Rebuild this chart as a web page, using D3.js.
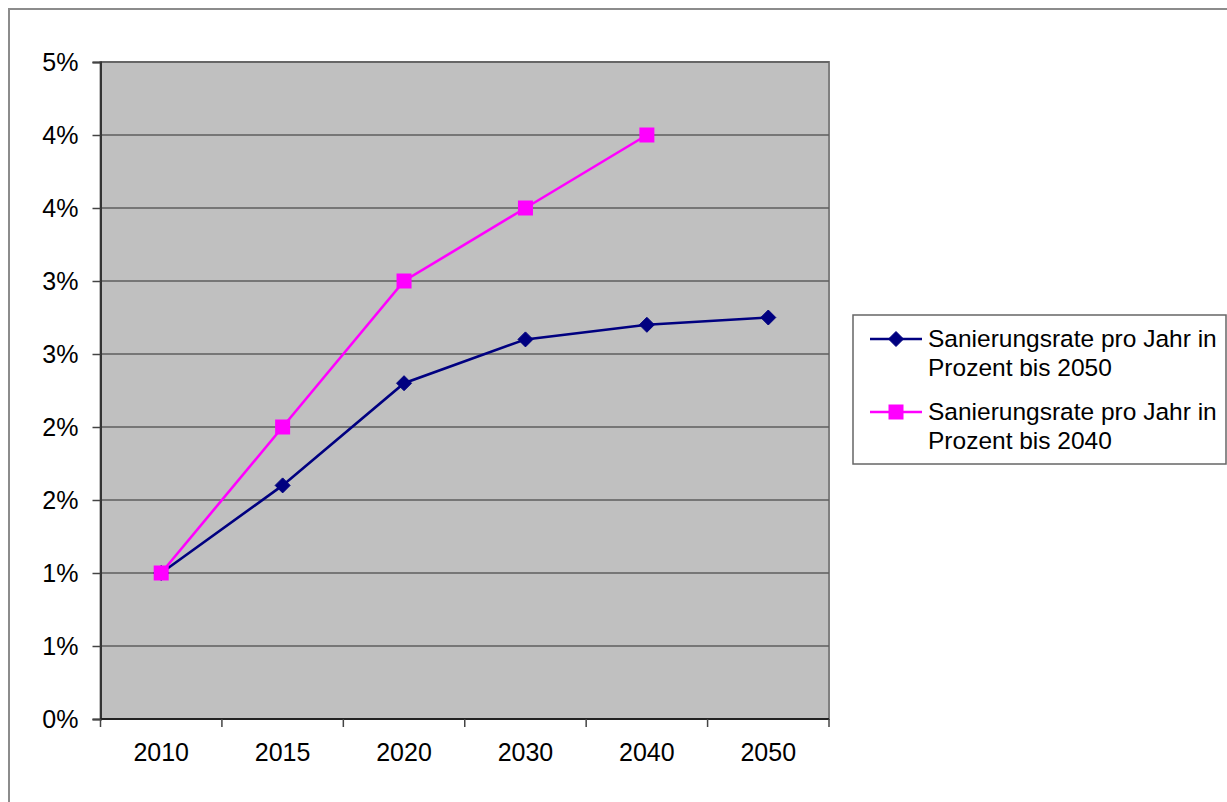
<!DOCTYPE html>
<html>
<head>
<meta charset="utf-8">
<script src="https://cdn.jsdelivr.net/npm/d3@7/dist/d3.min.js"></script>
<style>
  html, body { margin: 0; padding: 0; background: #fff; }
  svg { display: block; font-family: "Liberation Sans", Arial, sans-serif; }
</style>
</head>
<body>
<svg id="chart" width="1227" height="802"></svg>
<script>
// Renovation rate per year (%)
const years = ["2010", "2015", "2020", "2030", "2040", "2050"];
const rateTo2050 = [1.0, 1.6, 2.3, 2.6, 2.7, 2.75];
const rateTo2040 = [1.0, 2.0, 3.0, 3.5, 4.0];
const seriesNames = [
  ["Sanierungsrate pro Jahr in", "Prozent bis 2050"],
  ["Sanierungsrate pro Jahr in", "Prozent bis 2040"]
];
const yTicks = [0, 0.5, 1, 1.5, 2, 2.5, 3, 3.5, 4, 4.5];
const yTickLabels = ["0%", "1%", "1%", "2%", "2%", "3%", "3%", "4%", "4%", "5%"];

const svg = d3.select("#chart");
const plot = { left: 100.5, right: 829, top: 62, bottom: 719 };

// outer chart frame
svg.append("rect")
  .attr("x", 9).attr("y", 9).attr("width", 1240).attr("height", 820)
  .attr("fill", "#fff").attr("stroke", "#8c8c8c").attr("stroke-width", 2);

const x = d3.scaleBand().domain(years).range([plot.left, plot.right]).padding(0);
const y = d3.scaleLinear().domain([0, 4.5]).range([plot.bottom, plot.top]);
const cx = d => x(d) + x.bandwidth() / 2;

// plot area
svg.append("rect")
  .attr("x", plot.left).attr("y", plot.top)
  .attr("width", plot.right - plot.left).attr("height", plot.bottom - plot.top)
  .attr("fill", "#c0c0c0").attr("stroke", "#808080").attr("stroke-width", 2);

// horizontal gridlines
svg.append("g").selectAll("line")
  .data(yTicks.filter(t => t > 0))
  .join("line")
  .attr("x1", plot.left).attr("x2", plot.right)
  .attr("y1", d => y(d)).attr("y2", d => y(d))
  .attr("stroke", "#5e5e5e").attr("stroke-width", 1.6);

// y axis
const yAxis = d3.axisLeft(y)
  .tickValues(yTicks)
  .tickSize(8)
  .tickPadding(14)
  .tickFormat((d, i) => yTickLabels[i]);
const gy = svg.append("g").attr("transform", `translate(${plot.left},0)`).call(yAxis);
gy.select(".domain").attr("stroke", "#333").attr("stroke-width", 2);
gy.selectAll(".tick line").attr("stroke", "#444").attr("stroke-width", 1.5);
gy.selectAll(".tick text")
  .attr("font-size", 25).attr("fill", "#000")
  .attr("font-family", "Liberation Sans, Arial, sans-serif");

// x axis: ticks at category boundaries, labels at category centres
const gx = svg.append("g").attr("transform", `translate(0,${plot.bottom})`);
gx.append("line")
  .attr("x1", plot.left).attr("x2", plot.right)
  .attr("stroke", "#222").attr("stroke-width", 2);
const edges = years.map(d => x(d)).concat([x(years[years.length - 1]) + x.bandwidth()]);
gx.selectAll("line.tick")
  .data(edges)
  .join("line").attr("class", "tick")
  .attr("x1", d => d).attr("x2", d => d)
  .attr("y1", 0).attr("y2", 8)
  .attr("stroke", "#444").attr("stroke-width", 1.5);
gx.selectAll("text")
  .data(years)
  .join("text")
  .attr("x", d => cx(d)).attr("y", 42)
  .attr("text-anchor", "middle")
  .attr("font-size", 25).attr("fill", "#000")
  .text(d => d);

const line = d3.line().x((d, i) => cx(years[i])).y(d => y(d));

const navy = "#000080", magenta = "#ff00ff";

function diamond(g, px, py, r) {
  g.append("path")
    .attr("d", `M${px},${py - r}L${px + r},${py}L${px},${py + r}L${px - r},${py}Z`)
    .attr("fill", navy).attr("stroke", navy).attr("stroke-width", 1);
}
function square(g, px, py, s) {
  g.append("rect")
    .attr("x", px - s / 2).attr("y", py - s / 2).attr("width", s).attr("height", s)
    .attr("fill", magenta);
}

// series up to 2050
const g1 = svg.append("g");
g1.append("path").datum(rateTo2050).attr("d", line)
  .attr("fill", "none").attr("stroke", navy).attr("stroke-width", 2.6);
rateTo2050.forEach((v, i) => diamond(g1, cx(years[i]), y(v), 7.5));

// series up to 2040
const g2 = svg.append("g");
g2.append("path").datum(rateTo2040).attr("d", line)
  .attr("fill", "none").attr("stroke", magenta).attr("stroke-width", 2.6);
rateTo2040.forEach((v, i) => square(g2, cx(years[i]), y(v), 15));

// legend
const lg = svg.append("g");
lg.append("rect")
  .attr("x", 853).attr("y", 315).attr("width", 373).attr("height", 149)
  .attr("fill", "#fff").attr("stroke", "#666").attr("stroke-width", 1.5);
const entryY = [339, 412];
entryY.forEach((ly, k) => {
  const col = k === 0 ? navy : magenta;
  lg.append("line")
    .attr("x1", 870).attr("x2", 922).attr("y1", ly).attr("y2", ly)
    .attr("stroke", col).attr("stroke-width", 2.6);
  if (k === 0) diamond(lg, 896, ly, 7.5); else square(lg, 896, ly, 15);
  seriesNames[k].forEach((t, j) => {
    lg.append("text")
      .attr("x", 928).attr("y", ly + 8 + j * 29)
      .attr("font-size", 24.5).attr("fill", "#000")
      .text(t);
  });
});
</script>
</body>
</html>
